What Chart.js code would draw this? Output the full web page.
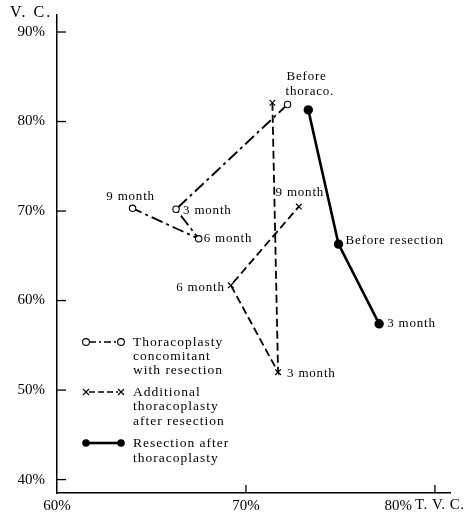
<!DOCTYPE html>
<html>
<head>
<meta charset="utf-8">
<script src="https://cdn.jsdelivr.net/npm/chart.js"></script>
<style>
  body { margin: 0; background: #fff; }
</style>
</head>
<body>
<canvas id="c" width="469" height="515"></canvas>
<script>
// values (T.V.C. % on x, V.C. % on y)
const thoracoX = [72.2, 66.3, 67.5, 64.0];
const thoracoY = [81.9, 70.2, 66.9, 70.3];
const thoracoLabels = ['Before thoraco.', '3 month', '6 month', '9 month'];

const additionalX = [71.4, 71.7, 69.2, 72.8];
const additionalY = [82.1, 52.0, 61.7, 70.5];
const additionalLabels = ['', '3 month', '6 month', '9 month'];

const resectionX = [73.3, 74.9, 77.05];
const resectionY = [81.3, 66.3, 57.4];
const resectionLabels = ['', 'Before resection', '3 month'];

const yTicks = [40, 50, 60, 70, 80, 90];
const xTicks = [60, 70, 80];

const legendNames = [
  ['Thoracoplasty', 'concomitant', 'with resection'],
  ['Additional', 'thoracoplasty', 'after resection'],
  ['Resection after', 'thoracoplasty']
];

const SERIF = '"Liberation Serif", "DejaVu Serif", serif';

function pts(xs, ys) {
  return xs.map((x, i) => ({ x: x, y: ys[i] }));
}

// label placement per point: [dx, dy, align]
const labelPlace = [
  [[0, 0, 'left'], [7, 1, 'left'], [5, 0, 'left'], [-2, -12, 'center']],
  [[0, 0, 'left'], [9, 1, 'left'], [-6, 2, 'right'], [1, -14, 'center']],
  [[0, 0, 'left'], [7, -4, 'left'], [8, 0, 'left']]
];
const allLabels = [thoracoLabels, additionalLabels, resectionLabels];

const decor = {
  id: 'decor',
  afterDraw(chart) {
    const ctx = chart.ctx;
    const xs = chart.scales.x, ys = chart.scales.y;
    const area = chart.chartArea;
    ctx.save();
    ctx.fillStyle = '#000';
    ctx.strokeStyle = '#000';

    // inward ticks
    ctx.lineWidth = 1.3;
    yTicks.forEach(v => {
      const py = ys.getPixelForValue(v);
      ctx.beginPath(); ctx.moveTo(area.left, py); ctx.lineTo(area.left + 9, py); ctx.stroke();
    });
    xTicks.slice(1).forEach(v => {
      const px = xs.getPixelForValue(v);
      ctx.beginPath(); ctx.moveTo(px, area.bottom); ctx.lineTo(px, area.bottom - 8); ctx.stroke();
    });

    // x tick labels and axis titles
    ctx.font = '15px ' + SERIF;
    ctx.textBaseline = 'middle';
    ctx.textAlign = 'center';
    ctx.fillText('60%', xs.getPixelForValue(60), 506);
    ctx.fillText('70%', xs.getPixelForValue(70), 506);
    ctx.textAlign = 'right';
    ctx.fillText('80%', xs.getPixelForValue(80) - 23, 506);
    ctx.textAlign = 'left';
    ctx.letterSpacing = '0.5px';
    ctx.fillText('T. V. C.', xs.getPixelForValue(80) - 20, 505);
    ctx.font = '16px ' + SERIF;
    ctx.letterSpacing = '2px';
    ctx.fillText('V. C.', 10, 13);

    // point labels
    ctx.font = '13px ' + SERIF;
    ctx.letterSpacing = '0.8px';
    allLabels.forEach((labels, di) => {
      const meta = chart.getDatasetMeta(di);
      labels.forEach((txt, i) => {
        if (!txt) return;
        const el = meta.data[i];
        const p = labelPlace[di][i];
        ctx.textAlign = p[2];
        if (txt === 'Before thoraco.') {
          ctx.textAlign = 'left';
          ctx.fillText('Before', el.x - 1, el.y - 28);
          ctx.fillText('thoraco.', el.x - 2, el.y - 13);
        } else {
          ctx.fillText(txt, el.x + p[0], el.y + p[1]);
        }
      });
    });

    // legend
    const rows = [342, 392, 443];
    const lineH = [14, 14.5, 15];
    ctx.textAlign = 'left';
    ctx.letterSpacing = '1px';
    rows.forEach((ry, k) => {
      const x1 = 86, x2 = 121;
      ctx.beginPath();
      ctx.lineWidth = k === 2 ? 2.6 : 1.6;
      ctx.setLineDash(k === 0 ? [7, 3, 2, 3] : k === 1 ? [6, 3] : []);
      ctx.moveTo(x1 + 3, ry); ctx.lineTo(x2 - 3, ry); ctx.stroke();
      ctx.setLineDash([]);
      [x1, x2].forEach(cx => {
        ctx.lineWidth = 1.1;
        if (k === 0) {
          ctx.beginPath(); ctx.arc(cx, ry, 3.4, 0, Math.PI * 2);
          ctx.fillStyle = '#fff'; ctx.fill(); ctx.stroke(); ctx.fillStyle = '#000';
        } else if (k === 1) {
          ctx.beginPath();
          ctx.moveTo(cx - 3, ry - 3); ctx.lineTo(cx + 3, ry + 3);
          ctx.moveTo(cx + 3, ry - 3); ctx.lineTo(cx - 3, ry + 3);
          ctx.stroke();
        } else {
          ctx.beginPath(); ctx.arc(cx, ry, 3.8, 0, Math.PI * 2); ctx.fill();
        }
      });
      ctx.font = '13.5px ' + SERIF;
      legendNames[k].forEach((t, j) => {
        ctx.fillText(t, 133, ry + j * lineH[k]);
      });
    });
    ctx.restore();
  }
};

new Chart(document.getElementById('c'), {
  type: 'scatter',
  data: {
    datasets: [
      {
        data: pts(thoracoX, thoracoY),
        showLine: true,
        borderColor: '#000',
        borderWidth: 1.8,
        borderDash: [12, 4, 3, 4],
        pointStyle: 'circle',
        pointRadius: 3.2,
        pointBorderWidth: 1.1,
        pointBackgroundColor: '#fff',
        pointBorderColor: '#000'
      },
      {
        data: pts(additionalX, additionalY),
        showLine: true,
        borderColor: '#000',
        borderWidth: 1.8,
        borderDash: [8, 4],
        pointStyle: 'crossRot',
        pointRadius: 4,
        pointBorderWidth: 1.2,
        pointBorderColor: '#000'
      },
      {
        data: pts(resectionX, resectionY),
        showLine: true,
        borderColor: '#000',
        borderWidth: 2.6,
        pointStyle: 'circle',
        pointRadius: 3.4,
        pointBackgroundColor: '#000',
        pointBorderColor: '#000'
      }
    ]
  },
  options: {
    responsive: false,
    animation: false,
    layout: { padding: { left: 0, top: 15, right: 19, bottom: 0 } },
    plugins: { legend: { display: false }, tooltip: { enabled: false } },
    scales: {
      x: {
        type: 'linear',
        min: 60,
        max: 80.8,
        afterFit: s => { s.height = 22; s.paddingLeft = 0; s.paddingRight = 0; },
        afterBuildTicks: s => { s.ticks = xTicks.map(v => ({ value: v })); },
        grid: { drawOnChartArea: false, drawTicks: false },
        border: { display: true, color: '#000', width: 1.5 },
        ticks: { display: false }
      },
      y: {
        type: 'linear',
        min: 38.5,
        max: 91.9,
        afterFit: s => { s.width = 57; s.paddingTop = 0; s.paddingBottom = 0; },
        afterBuildTicks: s => { s.ticks = yTicks.map(v => ({ value: v })); },
        grid: { drawOnChartArea: false, drawTicks: false },
        border: { display: true, color: '#000', width: 1.5 },
        ticks: {
          color: '#000',
          padding: 12,
          font: { family: SERIF, size: 15 },
          callback: v => v + '%'
        }
      }
    }
  },
  plugins: [decor]
});
</script>
</body>
</html>
